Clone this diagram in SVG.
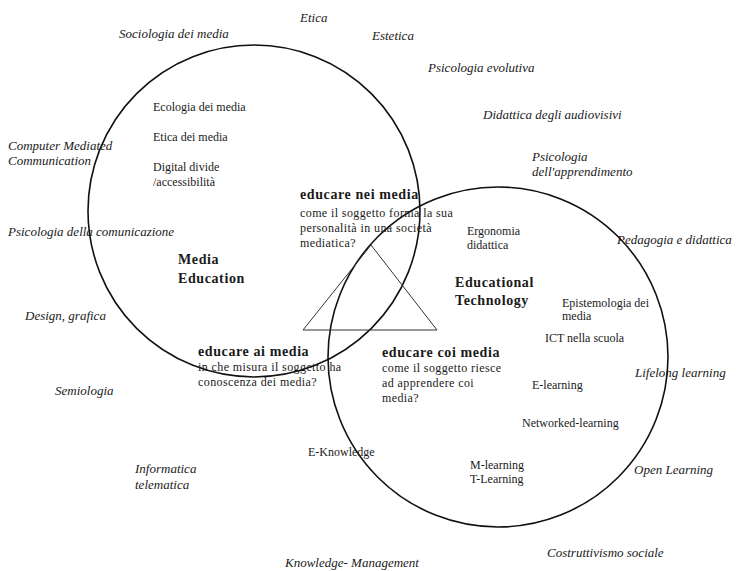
<svg xmlns="http://www.w3.org/2000/svg" width="736" height="571" viewBox="0 0 736 571">
<style>
text{font-family:"Liberation Serif","Times New Roman",serif;fill:#1a1a1a}
.it{font-style:italic;font-size:13px}
.n{font-size:12px}
.s{font-size:12px;letter-spacing:0.4px}
.b{font-weight:bold;font-size:14px;letter-spacing:0.6px}
.c{fill:none;stroke:#111;stroke-width:1.6}
.t{fill:none;stroke:#333;stroke-width:1}
</style>
<rect width="736" height="571" fill="#fff"/>
<g id="shapes">
<circle id="media-education-circle" class="c" cx="254" cy="211" r="166"/>
<circle id="educational-technology-circle" class="c" cx="498" cy="357" r="170"/>
<polygon id="triangle" class="t" points="371,245 303,330 437,330"/>
</g>
<g id="outer-labels">
<text class="it" x="300" y="22">Etica</text>
<text class="it" x="119" y="38">Sociologia dei media</text>
<text class="it" x="372" y="40">Estetica</text>
<text class="it" x="428" y="72">Psicologia evolutiva</text>
<text class="it" x="483" y="119">Didattica degli audiovisivi</text>
<text class="it" x="532" y="161">Psicologia</text>
<text class="it" x="532" y="176">dell'apprendimento</text>
<text class="it" x="8" y="150">Computer Mediated</text>
<text class="it" x="8" y="165">Communication</text>
<text class="it" x="8" y="236">Psicologia della comunicazione</text>
<text class="it" x="617" y="244">Pedagogia e didattica</text>
<text class="it" x="25" y="320">Design, grafica</text>
<text class="it" x="635" y="377">Lifelong learning</text>
<text class="it" x="55" y="395">Semiologia</text>
<text class="it" x="135" y="473">Informatica</text>
<text class="it" x="135" y="489">telematica</text>
<text class="it" x="634" y="474">Open Learning</text>
<text class="it" x="547" y="557">Costruttivismo sociale</text>
<text class="it" x="285" y="567">Knowledge- Management</text>
</g>
<g id="media-education">
<text class="b" x="178" y="264">Media</text>
<text class="b" x="178" y="283">Education</text>
<text class="n" x="153" y="111">Ecologia dei media</text>
<text class="n" x="153" y="141">Etica dei media</text>
<text class="n" x="153" y="171">Digital divide</text>
<text class="n" x="153" y="186">/accessibilità</text>
</g>
<g id="educational-technology">
<text class="b" x="455" y="287">Educational</text>
<text class="b" x="455" y="305">Technology</text>
<text class="n" x="467" y="235">Ergonomia</text>
<text class="n" x="467" y="249">didattica</text>
<text class="n" x="562" y="307">Epistemologia dei</text>
<text class="n" x="562" y="320">media</text>
<text class="n" x="545" y="342">ICT nella scuola</text>
<text class="n" x="532" y="389">E-learning</text>
<text class="n" x="522" y="427">Networked-learning</text>
<text class="n" x="308" y="456">E-Knowledge</text>
<text class="n" x="470" y="469">M-learning</text>
<text class="n" x="470" y="483">T-Learning</text>
</g>
<g id="educare-nei-media">
<text class="b" x="300" y="199">educare nei media</text>
<text class="s" x="300" y="217">come il soggetto forma la sua</text>
<text class="s" x="300" y="232">personalità in una società</text>
<text class="s" x="300" y="247">mediatica?</text>
</g>
<g id="educare-ai-media">
<text class="b" x="198" y="356">educare ai media</text>
<text class="s" x="198" y="371">in che misura il soggetto ha</text>
<text class="s" x="198" y="386">conoscenza dei media?</text>
</g>
<g id="educare-coi-media">
<text class="b" x="382" y="357">educare coi media</text>
<text class="s" x="382" y="372">come il soggetto riesce</text>
<text class="s" x="382" y="387">ad apprendere coi</text>
<text class="s" x="382" y="402">media?</text>
</g>
<g id="connectors"></g>
</svg>
